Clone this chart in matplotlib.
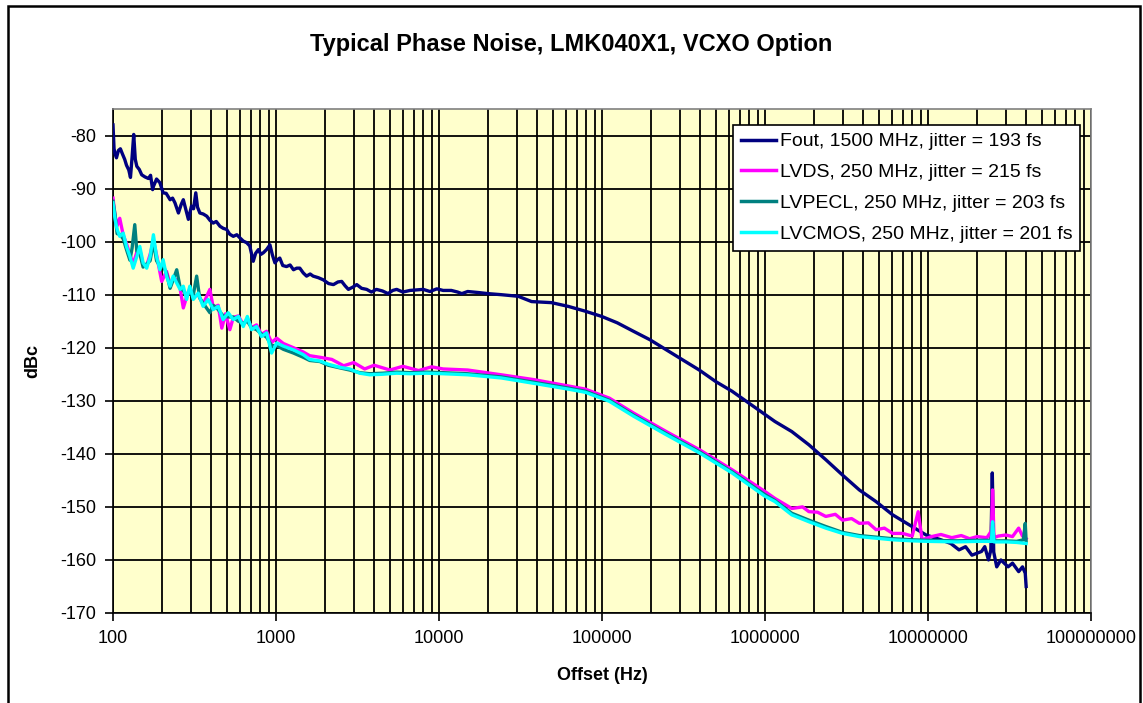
import matplotlib
matplotlib.use("Agg")
import matplotlib.pyplot as plt
from matplotlib.patches import Rectangle
from matplotlib.ticker import LogLocator, FixedLocator, NullFormatter

# -------------------------------------------------------------
# Data (offset in Hz, phase noise in dBc)
# -------------------------------------------------------------
fout_freq = [100, 101.5, 103, 105, 108, 111, 114, 118, 121, 125, 128, 131, 134, 137, 140,
             145, 150, 157, 165, 170, 175, 177, 185, 194, 203, 212, 224, 232, 240, 252,
             262, 270, 280, 290, 303, 312, 322, 330, 341, 358, 376, 394, 412, 430, 453,
             475, 498, 520, 547, 575, 601, 630, 661, 690, 725, 750, 780, 808, 836, 875,
             918, 950, 985, 1020, 1055, 1100, 1160, 1220, 1280, 1340, 1400, 1470, 1540,
             1620, 1690, 1820, 1950, 2100, 2250, 2400, 2530, 2650, 2780, 2950, 3130,
             3350, 3600, 3850, 4130, 4500, 4870, 5200, 5500, 6000, 6640, 7300, 8000,
             8800, 9700, 10600, 11900, 13000, 13800, 15000, 17500, 20000, 24100, 30600,
             37000, 49000, 62000, 78700, 99600, 124000, 156000, 197000, 248000, 313000,
             395000, 500000, 628000, 793000, 1000000, 1150000, 1460000, 1860000,
             2360000, 2990000, 3790000, 4800000, 6070000, 7690000, 9740000, 12000000,
             13800000, 15500000, 17000000, 18600000, 21300000, 22300000, 23500000,
             24300000, 24800000, 25300000, 26400000, 28000000, 31000000, 33000000,
             36000000, 38000000, 39500000, 40000000]
fout_dbc = [-78.0, -82.5, -83.5, -84.2, -82.8, -82.5, -83.4, -84.5, -85.6, -86.5, -87.9,
            -84.0, -79.8, -84.5, -85.8, -86.4, -87.4, -87.8, -88.1, -87.5, -90.2, -89.6,
            -88.2, -88.9, -90.8, -90.9, -92.1, -91.8, -92.7, -94.6, -93.0, -92.1, -94.0,
            -95.8, -93.3, -93.8, -90.8, -93.5, -94.6, -94.8, -95.2, -96.0, -96.5, -96.2,
            -97.1, -97.5, -97.7, -98.6, -99.0, -98.7, -99.3, -99.9, -100.2, -100.8,
            -103.7, -102.2, -101.5, -102.4, -102.1, -101.5, -100.6, -102.5, -104.0,
            -103.4, -103.1, -104.5, -104.7, -104.4, -105.3, -105.0, -105.0, -105.9,
            -106.5, -106.1, -106.5, -106.8, -107.2, -107.9, -108.1, -107.6, -107.5,
            -108.3, -109.0, -108.6, -108.1, -108.8, -109.0, -109.5, -109.0, -109.3,
            -109.8, -109.2, -109.0, -109.5, -109.2, -109.1, -109.0, -109.4, -108.9,
            -109.2, -109.2, -109.5, -109.8, -109.4, -109.6, -109.8, -110.0, -110.3,
            -111.3, -111.5, -112.2, -113.1, -114.1, -115.3, -116.9, -118.5, -120.4,
            -122.3, -124.2, -126.4, -128.2, -130.4, -132.6, -133.9, -135.8, -138.3,
            -141.1, -144.0, -146.8, -149.0, -151.5, -153.4, -155.3, -156.2, -156.9,
            -158.1, -157.5, -159.1, -158.4, -157.5, -160.0, -158.1, -143.6, -158.5,
            -161.3, -160.0, -161.3, -160.6, -162.2, -161.3, -162.5, -165.0]

lvds_freq = [100, 103, 106, 110, 115.6, 121, 127, 133, 140, 146, 153, 161, 169, 177, 185,
             199, 213, 224, 234, 246, 258, 270, 283, 296, 311, 333, 357, 393, 412, 442,
             465, 490, 521, 547, 587, 630, 667, 708, 760, 814, 875, 940, 1010, 1110,
             1280, 1470, 1610, 1860, 2200, 2600, 3000, 3500, 4000, 5000, 6000, 7500,
             9000, 10600, 15000, 24100, 38000, 62000, 79000, 111000, 156000, 248000,
             395000, 628000, 1000000, 1150000, 1460000, 1700000, 1860000, 2100000,
             2360000, 2700000, 2990000, 3400000, 3790000, 4300000, 4800000, 5400000,
             6070000, 7000000, 8000000, 8700000, 9200000, 10500000, 12000000, 14000000,
             16000000, 18000000, 20000000, 23000000, 24500000, 24900000, 25400000,
             27000000, 30000000, 33000000, 36000000, 38000000, 40000000]
lvds_dbc = [-91.8, -95.2, -97.0, -95.6, -98.8, -100.4, -102.5, -104.2, -102.0, -101.5,
            -104.4, -104.5, -102.4, -99.8, -102.5, -107.5, -105.6, -108.0, -107.0,
            -107.2, -108.8, -112.5, -110.4, -108.8, -110.4, -110.0, -111.8, -109.0,
            -112.4, -112.0, -116.3, -113.6, -116.6, -114.3, -114.0, -115.6, -114.6,
            -116.2, -115.7, -117.5, -116.9, -119.0, -118.2, -119.2, -120.0, -120.8,
            -121.5, -121.8, -122.2, -123.4, -122.8, -124.0, -123.3, -124.2, -123.5,
            -124.3, -123.6, -124.0, -124.2, -125.1, -126.0, -127.2, -127.8, -129.5,
            -132.3, -135.8, -139.2, -143.0, -147.1, -148.4, -150.3, -150.0, -150.9,
            -151.0, -151.8, -151.4, -152.5, -152.2, -153.1, -153.0, -154.3, -154.0,
            -155.0, -155.0, -155.5, -150.9, -156.2, -155.6, -155.2, -155.8, -155.4,
            -156.0, -155.6, -155.8, -154.5, -146.8, -155.8, -155.5, -155.3, -155.6,
            -154.0, -155.5, -156.0]

lvpecl_freq = [100, 103, 106, 110, 115.6, 121, 127, 131, 136, 140, 146, 153, 161, 169,
               177, 185, 194, 203, 213, 224, 234, 246, 258, 270, 283, 296, 311, 326, 340,
               357, 393, 412, 442, 474, 509, 547, 587, 630, 667, 708, 760, 814, 875, 940,
               1010, 1110, 1280, 1470, 1610, 1860, 2090, 2470, 2830, 3260, 3760, 4520,
               5500, 6640, 8400, 10600, 15000, 24100, 38000, 62000, 79000, 111000,
               156000, 248000, 395000, 628000, 1000000, 1150000, 1460000, 1860000,
               2360000, 2990000, 3790000, 4800000, 6070000, 8000000, 10000000, 15000000,
               20000000, 24500000, 24900000, 25400000, 30000000, 35000000, 38500000,
               39500000, 40000000]
lvpecl_dbc = [-92.4, -95.0, -98.5, -98.6, -99.5, -101.5, -103.5, -101.2, -96.8, -101.8,
              -102.2, -104.8, -104.2, -103.6, -100.0, -103.6, -104.6, -104.5, -106.0,
              -108.8, -107.2, -105.3, -108.6, -109.2, -110.2, -109.5, -110.0, -106.5,
              -110.6, -111.6, -113.4, -112.0, -112.8, -114.0, -114.2, -114.2, -115.0,
              -115.4, -115.0, -116.2, -116.6, -117.4, -118.0, -119.6, -119.6, -120.3,
              -121.0, -121.8, -122.4, -122.6, -123.3, -123.8, -124.2, -124.7, -124.9,
              -124.8, -124.6, -124.7, -124.6, -124.7, -124.9, -125.5, -126.5, -127.6,
              -128.2, -129.9, -132.7, -136.2, -139.6, -143.4, -147.7, -148.8, -151.2,
              -152.5, -153.7, -154.8, -155.4, -155.7, -156.0, -156.2, -156.3, -156.4,
              -156.3, -156.3, -153.0, -156.4, -156.4, -156.5, -156.2, -153.1, -156.5]

lvcmos_freq = [100, 103, 106, 110, 115.6, 121, 127, 133, 140, 146, 153, 161, 169, 177,
               185, 194, 203, 213, 224, 234, 246, 258, 270, 283, 296, 311, 333, 357, 384,
               412, 442, 474, 509, 547, 587, 630, 667, 708, 760, 814, 875, 940, 1010,
               1110, 1280, 1470, 1610, 1860, 2090, 2470, 2830, 3260, 3760, 4520, 5500,
               6640, 8400, 10600, 15000, 24100, 38000, 62000, 79000, 111000, 156000,
               248000, 395000, 628000, 1000000, 1150000, 1460000, 1860000, 2360000,
               2990000, 3790000, 4800000, 6070000, 8000000, 10000000, 15000000,
               20000000, 24500000, 24900000, 25400000, 30000000, 35000000, 40000000]
lvcmos_dbc = [-92.7, -95.8, -97.7, -99.0, -98.4, -100.9, -102.8, -105.0, -102.8, -100.9,
              -104.0, -105.0, -102.8, -98.7, -102.8, -105.3, -103.4, -106.5, -108.4,
              -106.5, -107.8, -109.0, -108.4, -110.9, -108.4, -110.9, -109.7, -112.2,
              -110.9, -112.8, -112.2, -114.7, -113.4, -114.7, -114.1, -116.0, -114.1,
              -116.6, -116.0, -117.9, -117.2, -121.0, -119.1, -119.7, -120.4, -121.3,
              -122.2, -122.5, -123.1, -123.7, -124.0, -124.8, -125.1, -125.0, -124.8,
              -124.9, -124.8, -124.9, -125.1, -125.7, -126.7, -127.8, -128.4, -130.1,
              -132.9, -136.4, -139.8, -143.6, -148.0, -149.0, -151.5, -152.8, -154.0,
              -155.0, -155.6, -155.9, -156.2, -156.4, -156.5, -156.6, -156.5, -156.5,
              -152.8, -156.6, -156.6, -156.7, -156.9]

series_labels = ["Fout, 1500 MHz, jitter = 193 fs",
                 "LVDS, 250 MHz, jitter = 215 fs",
                 "LVPECL, 250 MHz, jitter = 203 fs",
                 "LVCMOS, 250 MHz, jitter = 201 fs"]
series_colors = ["#000080", "#FF00FF", "#008080", "#00FFFF"]

x_ticks = [100, 1000, 10000, 100000, 1000000, 10000000, 100000000]
y_ticks = [-170, -160, -150, -140, -130, -120, -110, -100, -90, -80]


def main():
    plt.rcParams['font.family'] = ['Liberation Sans', 'DejaVu Sans']

    fig = plt.figure(figsize=(11.43, 7.03), dpi=100)
    ax = fig.add_axes([113 / 1143, 1 - 613 / 703, 978 / 1143, 504 / 703])
    ax.set_facecolor("#FFFFCC")

    # -------------------------------------------------------------
    # Curves
    # -------------------------------------------------------------
    data = [(fout_freq, fout_dbc), (lvds_freq, lvds_dbc),
            (lvpecl_freq, lvpecl_dbc), (lvcmos_freq, lvcmos_dbc)]
    for (f, d), lab, col in zip(data, series_labels, series_colors):
        ax.plot(f, d, color=col, lw=2.4, label=lab, zorder=3)

    # -------------------------------------------------------------
    # Axes, grid, ticks
    # -------------------------------------------------------------
    ax.set_xscale("log")
    ax.set_xlim(100, 1e8)
    ax.set_ylim(-170, -75)
    ax.xaxis.set_major_locator(FixedLocator(x_ticks))
    ax.set_xticklabels([str(t) for t in x_ticks])
    ax.xaxis.set_minor_locator(LogLocator(base=10, subs=range(2, 10), numticks=20))
    ax.xaxis.set_minor_formatter(NullFormatter())
    ax.set_yticks(y_ticks)
    ax.set_yticklabels([str(t) for t in y_ticks])

    ax.grid(True, which="major", axis="both", color="black", lw=1.3, zorder=1)
    ax.grid(True, which="minor", axis="x", color="black", lw=1.3, zorder=1)
    ax.set_axisbelow(True)
    ax.tick_params(axis="both", which="major", direction="out", length=6, width=1.2,
                   labelsize=13, pad=6)
    ax.tick_params(axis="x", which="minor", length=0)

    for side in ["left", "bottom"]:
        ax.spines[side].set_color("black")
        ax.spines[side].set_linewidth(1.2)
    for side in ["top", "right"]:
        ax.spines[side].set_color("#808080")
        ax.spines[side].set_linewidth(1.2)

    ax.set_xlabel("Offset (Hz)", fontsize=13, fontweight="bold", labelpad=15)
    ax.set_ylabel("dBc", fontsize=13, fontweight="bold", labelpad=14)
    fig.text(0.5, 1 - 45 / 703, "Typical Phase Noise, LMK040X1, VCXO Option",
             ha="center", va="center", fontsize=17, fontweight="bold")

    leg = ax.legend(loc="upper right", bbox_to_anchor=((1080 - 113) / 978, (613 - 125) / 504),
                    fontsize=14, frameon=True, fancybox=False, edgecolor="black",
                    framealpha=1, handlelength=1.8, handletextpad=0.2,
                    borderpad=0.4, labelspacing=0.68, borderaxespad=0)
    leg.get_frame().set_linewidth(1.2)
    for line in leg.get_lines():
        line.set_linewidth(2.5)

    # Chart area border (Excel style)
    fig.patches.append(Rectangle((8 / 1143, -0.02), 1132 / 1143, 1 + 0.02 - 6 / 703,
                                 transform=fig.transFigure, fill=False,
                                 edgecolor="black", lw=1.8))

    output_filename = "out.png"
    fig.savefig(output_filename, dpi=100)
    plt.close(fig)


if __name__ == "__main__":
    main()
